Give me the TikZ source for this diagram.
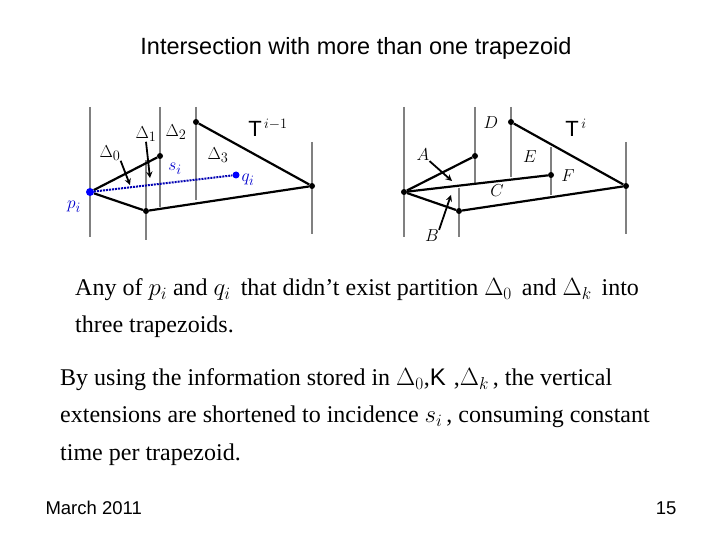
\documentclass[tikz,border=0pt]{standalone}
\usepackage{fontspec}
\setmainfont{Liberation Serif}
\setsansfont{Liberation Sans}
\newfontfamily\arialfont{Liberation Sans}
\tikzstyle{vline} = [draw=gray, line width=2.2pt]
\tikzstyle{edge} = [line width=2.2pt, black]
\tikzstyle{pt} = [circle, fill=black, inner sep=0pt, minimum size=6pt]
\tikzstyle{bpt} = [circle, fill=blue, inner sep=0pt, minimum size=8pt]
\tikzstyle{lab} = [font=\fontsize{19}{21}\selectfont, inner sep=0pt]
\tikzstyle{arrow} = [line width=1.8pt, ->, >=stealth]
\tikzstyle{para} = [anchor=west, font=\fontsize{24}{26}\selectfont, inner sep=0pt]
\begin{document}
\begin{tikzpicture}[x=1pt, y=-1pt]
\useasboundingbox (0,0) rectangle (720,540);
\node (title) at (356,48) {\arialfont\fontsize{23.5}{26}\selectfont Intersection with more than one trapezoid};
% left: T^{i-1}
\draw [vline] (90,107) -- (90,237);
\draw [vline] (146,160) -- (146,240);
\draw [vline] (160,107) -- (160,207);
\draw [vline] (196,107) -- (196,200);
\draw [vline] (312,142) -- (312,234);
\node (p) [bpt] at (90,192) {};
\node (a1) [pt] at (160,156) {};
\node (a2) [pt] at (146,211) {};
\node (a3) [pt] at (196,122) {};
\node (a4) [pt] at (312,186) {};
\node (q) [bpt, minimum size=7pt] at (236,175) {};
\draw [edge] (p) -- (a1);
\draw [edge] (p) -- (a2);
\draw [edge] (a2) -- (a4);
\draw [edge] (a3) -- (a4);
\draw [blue!70!black, line width=2pt, densely dotted] (p) -- (q);
\node (d0) [lab] at (110,153) {$\Delta_0$};
\node (d1) [lab] at (146,134) {$\Delta_1$};
\node (d2) [lab] at (176,132) {$\Delta_2$};
\node (d3) [lab] at (218,155) {$\Delta_3$};
\node (si) [lab, blue!80!black] at (175,169) {$s_i$};
\node (qi) [lab, blue!80!black] at (248,180) {$q_i$};
\node (pi) [lab, blue!80!black] at (74,207) {$p_i$};
\node (T1) at (268,128) {\arialfont\fontsize{22}{24}\selectfont T$^{\,i-1}$};
\coordinate (d0t) at (130,185);
\coordinate (d1t) at (150,178);
\draw [arrow] (d0.south east) -- (d0t);
\draw [arrow] (d1.south) -- (d1t);
% right: T^i
\draw [vline] (404,107) -- (404,237);
\draw [vline] (475,107) -- (475,185);
\draw [vline] (511,107) -- (511,177);
\draw [vline] (551,147) -- (551,195);
\draw [vline] (459,188) -- (459,237);
\draw [vline] (626,142) -- (626,234);
\node (l) [pt] at (404,192) {};
\node (b1) [pt] at (475,156) {};
\node (b2) [pt] at (459,211) {};
\node (b3) [pt] at (511,122) {};
\node (b4) [pt] at (551,175) {};
\node (b5) [pt] at (626,186) {};
\draw [edge] (l) -- (b1);
\draw [edge] (l) -- (b4);
\draw [edge] (l) -- (b2);
\draw [edge] (b2) -- (b5);
\draw [edge] (b3) -- (b5);
\node (D) [lab] at (491,123) {$D$};
\node (A) [lab] at (423,155) {$A$};
\node (E) [lab] at (530,157) {$E$};
\node (F) [lab] at (568,176) {$F$};
\node (C) [lab] at (497,191) {$C$};
\node (B) [lab] at (432,236) {$B$};
\node (T2) at (576,128) {\arialfont\fontsize{22}{24}\selectfont T$^{\,i}$};
\coordinate (At) at (452,181);
\coordinate (Bt) at (451,195);
\draw [arrow] (A.south east) -- (At);
\draw [arrow] (B.north east) -- (Bt);
% text
\node (t1) [para] at (75,290) {Any of $p_i$ and $q_i$\, that didn't exist partition $\Delta_0$ \,and $\Delta_k$\, into};
\node (t2) [para] at (75,327) {three trapezoids.};
\node (t3) [para] at (60,380) {By using the information stored in $\Delta_0$,{\arialfont K}\,\,,$\Delta_k$\,, the vertical};
\node (t4) [para] at (60,417) {extensions are shortened to incidence $s_i$\,, consuming constant};
\node (t5) [para] at (60,455) {time per trapezoid.};
\node (foot1) [anchor=west] at (42,508) {\arialfont\fontsize{18.5}{20}\selectfont March 2011};
\node (foot2) [anchor=east] at (680,508) {\arialfont\fontsize{18.5}{20}\selectfont 15};
\end{tikzpicture}
\end{document}
